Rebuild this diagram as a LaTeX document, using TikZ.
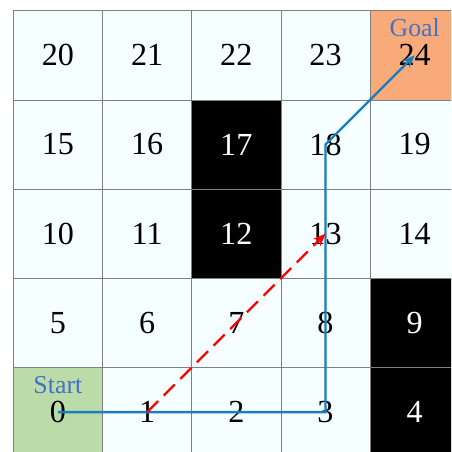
\documentclass[tikz,border=0pt]{standalone}
\usepackage{fontspec}
\setmainfont{Liberation Serif}
\usetikzlibrary{arrows.meta}
\definecolor{free}{RGB}{245,255,255}
\definecolor{startgreen}{RGB}{187,219,168}
\definecolor{goalorange}{RGB}{248,170,122}
\definecolor{routeblue}{RGB}{24,125,193}
\definecolor{tagblue}{RGB}{68,114,196}

\begin{document}
\begin{tikzpicture}[
  cell/.style={draw=gray,fill=free,minimum size=2cm,inner sep=0pt,font=\fontsize{20.5}{24}\selectfont},
  wall/.style={fill=black,text=white},
  k0/.style={fill=startgreen},
  k4/.style={wall},
  k9/.style={wall},
  k12/.style={wall},
  k17/.style={wall},
  k24/.style={fill=goalorange},
  tag/.style={text=tagblue,inner sep=0pt,text depth=0pt,font=\fontsize{16.5}{19}\selectfont},
  route/.style={routeblue,line width=1.5pt,-{Stealth[length=8pt,width=6.5pt]}},
  shortcut/.style={red,line width=1.5pt,dash pattern=on 10pt off 5pt,-{Stealth[length=8pt,width=6.5pt]}}
]
  \fill[white] (-0.298,0.106) rectangle (9.814,10.24);
  \clip (-0.298,0.106) rectangle (9.814,10.24);
  % grid cells
  \foreach \i in {0,...,24} {
    \pgfmathtruncatemacro{\col}{mod(\i,5)}
    \pgfmathtruncatemacro{\row}{div(\i,5)}
    \node[cell,k\i/.try] (c\i) at (2*\col+1,2*\row+1) {\i};
  }
  \node[tag] (start) at ([yshift=0.6cm]c0.center) {Start};
  \node[tag] (goal) at ([yshift=0.62cm]c24.center) {Goal};
  % paths
  \draw[route] (c0.center) -- (c3.center) -- (c18.center) -- (c24.center);
  \draw[shortcut] (c1.center) -- (c13.center);
\end{tikzpicture}
\end{document}
